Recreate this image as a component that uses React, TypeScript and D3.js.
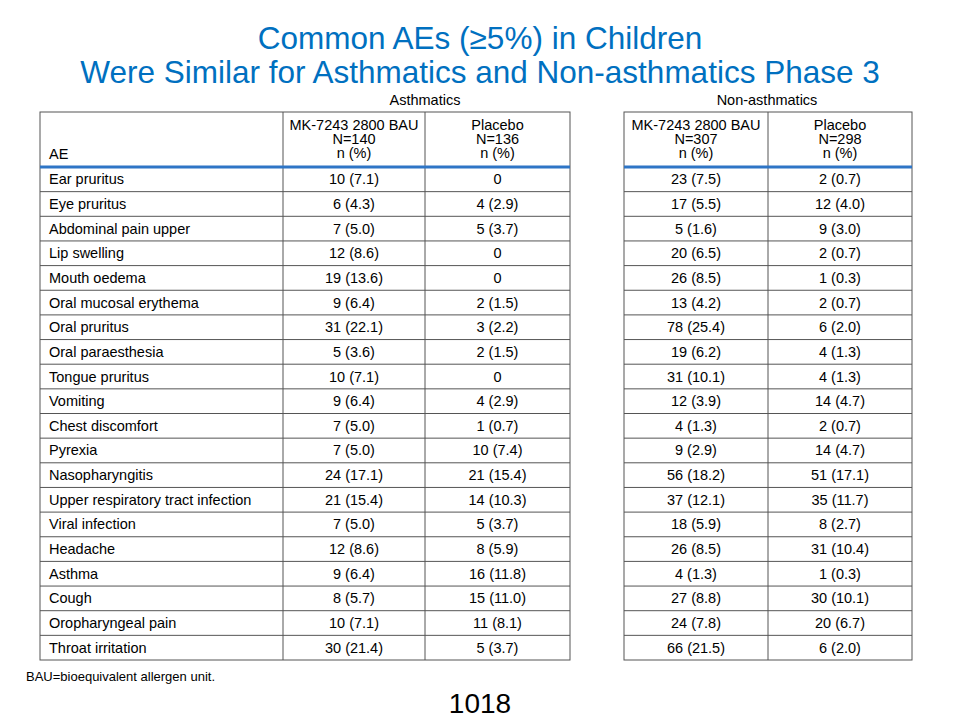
import React from "react";
import { scaleBand } from "d3";

const aes = ["Ear pruritus", "Eye pruritus", "Abdominal pain upper", "Lip swelling", "Mouth oedema", "Oral mucosal erythema", "Oral pruritus", "Oral paraesthesia", "Tongue pruritus", "Vomiting", "Chest discomfort", "Pyrexia", "Nasopharyngitis", "Upper respiratory tract infection", "Viral infection", "Headache", "Asthma", "Cough", "Oropharyngeal pain", "Throat irritation"];
const asthMk = ["10 (7.1)", "6 (4.3)", "7 (5.0)", "12 (8.6)", "19 (13.6)", "9 (6.4)", "31 (22.1)", "5 (3.6)", "10 (7.1)", "9 (6.4)", "7 (5.0)", "7 (5.0)", "24 (17.1)", "21 (15.4)", "7 (5.0)", "12 (8.6)", "9 (6.4)", "8 (5.7)", "10 (7.1)", "30 (21.4)"];
const asthPl = ["0", "4 (2.9)", "5 (3.7)", "0", "0", "2 (1.5)", "3 (2.2)", "2 (1.5)", "0", "4 (2.9)", "1 (0.7)", "10 (7.4)", "21 (15.4)", "14 (10.3)", "5 (3.7)", "8 (5.9)", "16 (11.8)", "15 (11.0)", "11 (8.1)", "5 (3.7)"];
const nonMk = ["23 (7.5)", "17 (5.5)", "5 (1.6)", "20 (6.5)", "26 (8.5)", "13 (4.2)", "78 (25.4)", "19 (6.2)", "31 (10.1)", "12 (3.9)", "4 (1.3)", "9 (2.9)", "56 (18.2)", "37 (12.1)", "18 (5.9)", "26 (8.5)", "4 (1.3)", "27 (8.8)", "24 (7.8)", "66 (21.5)"];
const nonPl = ["2 (0.7)", "12 (4.0)", "9 (3.0)", "2 (0.7)", "1 (0.3)", "2 (0.7)", "6 (2.0)", "4 (1.3)", "4 (1.3)", "14 (4.7)", "2 (0.7)", "14 (4.7)", "51 (17.1)", "35 (11.7)", "8 (2.7)", "31 (10.4)", "1 (0.3)", "30 (10.1)", "20 (6.7)", "6 (2.0)"];
const asthHeader = [["MK-7243 2800 BAU", "N=140", "n (%)"], ["Placebo", "N=136", "n (%)"]];
const nonHeader = [["MK-7243 2800 BAU", "N=307", "n (%)"], ["Placebo", "N=298", "n (%)"]];

const font = "Arial, 'Liberation Sans', sans-serif";
const stroke = "#555";
const blue = "#0070C0";
const headTop = 112;
const headBottom = 167;
const y = scaleBand<string>().domain(aes).range([headBottom, 660]);

const Table = ({ cols, header, values, first }: { cols: number[]; header: string[][]; values: string[][]; first: boolean }) => {
  const x0 = cols[0];
  const x1 = cols[cols.length - 1];
  const bodyCols = first ? cols.slice(1) : cols;
  return (
    <g fontFamily={font} fontSize={14.5} fill="#000">
      <rect x={x0} y={headTop} width={x1 - x0} height={660 - headTop} fill="none" stroke={stroke} />
      {cols.slice(1, -1).map((c) => (
        <line key={c} x1={c} x2={c} y1={headTop} y2={660} stroke={stroke} />
      ))}
      {aes.slice(1).map((a) => (
        <line key={a} x1={x0} x2={x1} y1={y(a)} y2={y(a)} stroke={stroke} />
      ))}
      {first && <text x={x0 + 9} y={159}>AE</text>}
      {header.map((h, j) => (
        <text key={j} x={(bodyCols[j] + bodyCols[j + 1]) / 2} textAnchor="middle">
          {h.map((l, k) => (
            <tspan key={k} x={(bodyCols[j] + bodyCols[j + 1]) / 2} y={130 + k * 14}>{l}</tspan>
          ))}
        </text>
      ))}
      <line x1={x0} x2={x1} y1={headBottom} y2={headBottom} stroke="#2E75C6" strokeWidth={3} />
      {aes.map((a, i) => (
        <g key={a} transform={`translate(0,${y(a)! + y.bandwidth() / 2 + 5})`}>
          {first && <text x={x0 + 9}>{a}</text>}
          {values.map((v, j) => (
            <text key={j} x={(bodyCols[j] + bodyCols[j + 1]) / 2} textAnchor="middle">{v[i]}</text>
          ))}
        </g>
      ))}
    </g>
  );
};

export default function App() {
  return (
    <svg width={960} height={720} style={{ position: "absolute", left: 0, top: 0, background: "#fff" }}>
      <text x={480} y={49} textAnchor="middle" fontFamily={font} fontSize={31.5} fill={blue}>Common AEs (≥5%) in Children</text>
      <text x={480} y={83} textAnchor="middle" fontFamily={font} fontSize={31.5} fill={blue}>Were Similar for Asthmatics and Non-asthmatics Phase 3</text>
      <text x={425} y={105} textAnchor="middle" fontFamily={font} fontSize={14.5}>Asthmatics</text>
      <text x={767} y={105} textAnchor="middle" fontFamily={font} fontSize={14.5}>Non-asthmatics</text>
      <Table cols={[40, 283, 425, 570]} header={asthHeader} values={[asthMk, asthPl]} first />
      <Table cols={[624, 768, 912]} header={nonHeader} values={[nonMk, nonPl]} first={false} />
      <text x={26} y={681} fontFamily={font} fontSize={13}>BAU=bioequivalent  allergen unit.</text>
      <text x={480} y={713} textAnchor="middle" fontFamily={font} fontSize={28}>1018</text>
    </svg>
  );
}
